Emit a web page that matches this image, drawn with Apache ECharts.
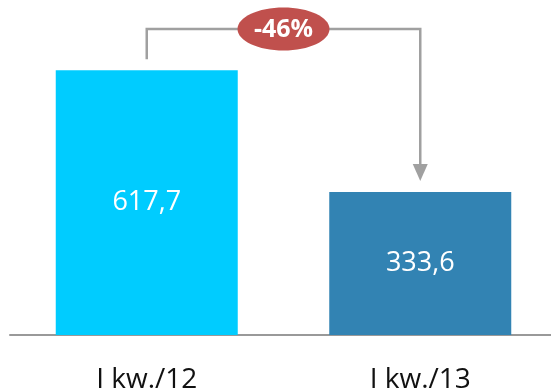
<!DOCTYPE html>
<html>
<head>
<meta charset="utf-8">
<script src="https://cdn.jsdelivr.net/npm/echarts@6/dist/echarts.min.js"></script>
<style>
  html, body { margin: 0; padding: 0; background: #fff; }
  #chart { width: 551px; height: 392px; }
</style>
</head>
<body>
<div id="chart"></div>
<script>
// dane
const categories = ['I kw./12', 'I kw./13'];
const values = [617.7, 333.6];
const barColors = ['#00CCFF', '#3283B3'];
const changeLabel = '-46%';

const chart = echarts.init(document.getElementById('chart'));

const option = {
  animation: false,
  grid: { left: 10, width: 547, top: 35, bottom: 57, outerBoundsMode: 'none', containLabel: false },
  xAxis: {
    type: 'category',
    data: categories,
    axisTick: { show: false },
    axisLine: { lineStyle: { color: '#999999', width: 2 } },
    axisLabel: {
      margin: 31,
      fontFamily: 'Open Sans',
      fontSize: 28,
      color: '#111111'
    }
  },
  yAxis: {
    type: 'value',
    min: 0,
    max: 700,
    show: false,
    splitLine: { show: false }
  },
  series: [{
    type: 'bar',
    barWidth: 182,
    data: values.map((v, i) => ({ value: v, itemStyle: { color: barColors[i] } })),
    label: {
      show: true,
      position: 'inside',
      fontFamily: 'Open Sans',
      fontSize: 27,
      color: '#ffffff',
      formatter: p => p.value.toFixed(1).replace('.', ',')
    }
  }]
};
chart.setOption(option);

// strzałka ze zmianą procentową - pozycje liczone z osi
function drawBracket () {
  const p1 = chart.convertToPixel({ seriesIndex: 0 }, [0, values[0]]);
  const p2 = chart.convertToPixel({ seriesIndex: 0 }, [1, values[1]]);
  const topY = 29;
  const gap = 11;
  const midX = (p1[0] + p2[0]) / 2;
  const lineStyle = { stroke: '#A0A0A0', lineWidth: 2.5, fill: null };
  chart.setOption({
    graphic: [
      {
        type: 'polyline',
        shape: { points: [[p1[0], p1[1] - gap], [p1[0], topY], [p2[0], topY], [p2[0], p2[1] - gap - 15]] },
        style: lineStyle
      },
      {
        type: 'polygon',
        shape: { points: [[p2[0] - 7.5, p2[1] - gap - 17], [p2[0] + 7.5, p2[1] - gap - 17], [p2[0], p2[1] - gap]] },
        style: { fill: '#A0A0A0' }
      },
      {
        type: 'ellipse',
        shape: { cx: midX, cy: topY, rx: 46, ry: 21.5 },
        style: { fill: '#C0504D' },
        z: 10
      },
      {
        type: 'text',
        x: midX,
        y: topY + 1,
        z: 11,
        style: {
          text: changeLabel,
          fill: '#ffffff',
          font: 'bold 25px "Open Sans"',
          align: 'center',
          verticalAlign: 'middle'
        }
      }
    ]
  });
}
drawBracket();
</script>
</body>
</html>
